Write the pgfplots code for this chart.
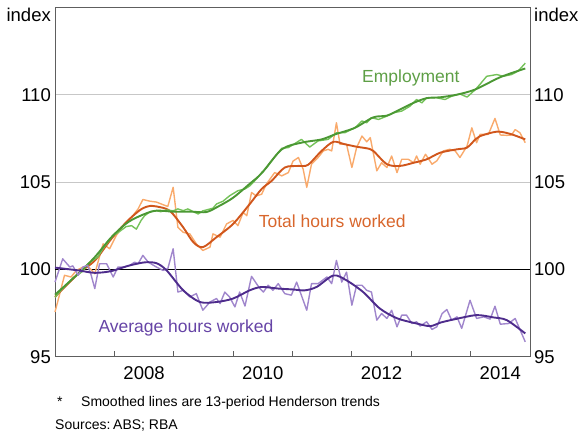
\documentclass[border=0pt]{standalone}
\usepackage{pgfplots}
\pgfplotsset{compat=1.18}
\usepackage{fontspec}
\setmainfont{Liberation Sans}

\definecolor{empraw}{HTML}{74C259}
\definecolor{empsm}{HTML}{4B9834}
\definecolor{emptxt}{HTML}{5E9F46}
\definecolor{hrsraw}{HTML}{F9AA6C}
\definecolor{hrssm}{HTML}{D0561C}
\definecolor{hrstxt}{HTML}{D8662C}
\definecolor{avgraw}{HTML}{A086CC}
\definecolor{avgsm}{HTML}{4E2C8C}
\definecolor{avgtxt}{HTML}{6644A6}
\definecolor{frame}{HTML}{5E5E5E}

\begin{document}
\begin{tikzpicture}
\begin{axis}[
  name=ax,
  scale only axis, width=475pt, height=349.4pt,
  xmin=2007, xmax=2015, ymin=95, ymax=115,
  axis line style={frame, line width=0.9pt},
  xtick={2008,...,2014}, xticklabels={},
  xtick pos=bottom, major tick length=6pt,
  xtick style={frame, line width=0.9pt},
  extra x ticks={2008.5,2010.5,2012.5,2014.5},
  extra x tick labels={2008,2010,2012,2014},
  extra x tick style={major tick length=0pt},
  xticklabel style={inner sep=0pt, yshift=-10pt},
  ytick={95,100,105,110}, yticklabels={95,100,105,110},
  ytick style={draw=none},
  yticklabel style={inner sep=0pt, xshift=-4pt},
  ymajorgrids, grid style={black!22, line width=0.9pt},
  tick label style={font=\fontsize{18.5}{21}\selectfont},
  clip=false
]
\draw[black, line width=0.9pt] (axis cs:2007,100) -- (axis cs:2015,100);

% total hours worked
\addplot[hrsraw, line width=1.4pt, line join=round] coordinates {
(2007.00,97.56)(2007.08,98.6)(2007.16,99.66)(2007.27,99.56)(2007.36,99.94)(2007.47,100.13)
(2007.55,100.2)(2007.67,99.75)(2007.81,101.46)(2007.92,101.18)(2008.03,101.93)(2008.15,102.5)
(2008.29,102.98)(2008.40,103.46)(2008.48,104.0)(2008.60,103.9)(2008.71,103.85)(2008.82,103.7)
(2008.90,103.6)(2008.99,104.7)(2009.07,102.4)(2009.16,102.12)(2009.27,102.03)(2009.38,101.46)
(2009.49,101.08)(2009.61,101.27)(2009.66,102.03)(2009.78,101.84)(2009.89,102.6)(2010.00,102.8)
(2010.08,102.5)(2010.17,103.26)(2010.23,103.07)(2010.31,104.4)(2010.39,104.2)(2010.48,104.3)
(2010.56,104.88)(2010.70,105.54)(2010.82,105.35)(2010.93,105.54)(2011.01,106.2)(2011.10,106.4)
(2011.18,105.73)(2011.24,104.69)(2011.32,106.02)(2011.43,106.4)(2011.52,106.78)(2011.60,106.87)
(2011.66,106.78)(2011.74,108.39)(2011.80,107.16)(2011.91,107.16)(2012.00,105.83)(2012.08,106.97)
(2012.17,107.63)(2012.25,107.3)(2012.31,107.54)(2012.42,105.64)(2012.50,106.1)(2012.59,105.83)
(2012.67,106.49)(2012.76,105.54)(2012.84,106.3)(2012.95,106.3)(2013.04,106.1)(2013.09,106.49)
(2013.15,106.02)(2013.24,106.59)(2013.35,106.02)(2013.43,106.21)(2013.54,106.78)(2013.65,106.87)
(2013.74,106.78)(2013.82,106.4)(2013.94,107.06)(2014.02,108.1)(2014.10,107.25)(2014.16,107.73)
(2014.30,107.73)(2014.41,108.64)(2014.50,107.69)(2014.61,107.67)(2014.69,107.69)(2014.75,108.0)
(2014.83,107.82)(2014.92,107.25)
};
\addplot[hrssm, line width=1.9pt, smooth] coordinates {
(2007.00,98.42)(2007.39,99.75)(2007.67,100.5)(2007.95,101.75)(2008.23,102.8)(2008.46,103.46)
(2008.62,103.64)(2008.71,103.6)(2008.93,103.36)(2009.16,102.4)(2009.33,101.55)(2009.49,101.27)
(2009.72,101.84)(2010.00,102.6)(2010.28,103.74)(2010.48,104.6)(2010.65,105.07)(2010.87,105.83)
(2011.10,105.92)(2011.26,105.98)(2011.49,106.78)(2011.69,107.3)(2011.88,107.16)(2012.11,107.0)
(2012.25,106.93)(2012.36,106.78)(2012.59,106.02)(2012.81,105.92)(2013.04,106.1)(2013.26,106.3)
(2013.49,106.68)(2013.77,106.87)(2013.94,106.97)(2014.08,107.44)(2014.16,107.63)(2014.44,107.88)
(2014.66,107.76)(2014.92,107.44)
};

% employment
\addplot[empraw, line width=1.4pt, line join=round] coordinates {
(2007.00,98.4)(2007.10,98.8)(2007.22,99.2)(2007.30,99.5)(2007.39,99.7)(2007.47,99.9)
(2007.55,100.3)(2007.63,100.5)(2007.72,100.7)(2007.81,101.2)(2007.90,101.6)(2007.98,101.95)
(2008.06,102.1)(2008.12,102.25)(2008.20,102.45)(2008.29,102.5)(2008.37,102.3)(2008.45,102.8)
(2008.51,103.07)(2008.60,103.3)(2008.71,103.36)(2008.78,103.3)(2008.88,103.4)(2008.99,103.35)
(2009.07,103.46)(2009.16,103.36)(2009.24,103.46)(2009.33,103.3)(2009.41,103.17)(2009.49,103.35)
(2009.55,103.4)(2009.66,103.5)(2009.72,103.74)(2009.83,103.9)(2009.94,104.21)(2010.08,104.5)
(2010.20,104.6)(2010.28,104.78)(2010.39,105.16)(2010.48,105.54)(2010.56,105.8)(2010.65,106.2)
(2010.74,106.6)(2010.82,106.93)(2010.93,106.97)(2011.04,107.2)(2011.15,107.44)(2011.29,107.0)
(2011.43,107.35)(2011.60,107.44)(2011.74,107.82)(2011.88,107.82)(2012.05,108.1)(2012.17,108.49)
(2012.25,108.39)(2012.33,108.68)(2012.45,108.58)(2012.59,108.77)(2012.70,108.96)(2012.84,109.06)
(2012.98,109.34)(2013.09,109.72)(2013.18,109.53)(2013.26,109.82)(2013.43,109.82)(2013.57,109.72)
(2013.68,109.91)(2013.82,110.04)(2013.94,109.86)(2014.08,110.29)(2014.16,110.6)(2014.27,111.05)
(2014.44,111.15)(2014.55,111.05)(2014.69,111.15)(2014.80,111.35)(2014.92,111.8)
};
\addplot[empsm, line width=1.9pt, smooth] coordinates {
(2007.00,98.55)(2007.39,99.75)(2007.67,100.7)(2007.95,101.84)(2008.23,102.7)(2008.51,103.17)
(2008.71,103.36)(2009.00,103.3)(2009.30,103.3)(2009.55,103.28)(2009.75,103.6)(2010.00,104.1)
(2010.28,104.9)(2010.48,105.5)(2010.82,106.87)(2011.15,107.25)(2011.49,107.44)(2011.72,107.73)
(2012.05,108.1)(2012.36,108.7)(2012.59,108.8)(2012.81,109.15)(2013.04,109.53)(2013.26,109.8)
(2013.49,109.85)(2013.77,110.0)(2014.08,110.3)(2014.50,111.0)(2014.92,111.5)
};

% average hours worked
\addplot[avgraw, line width=1.4pt, line join=round] coordinates {
(2007.00,99.27)(2007.13,100.6)(2007.25,100.13)(2007.30,100.2)(2007.39,99.66)(2007.47,100.13)
(2007.55,100.23)(2007.61,99.66)(2007.67,98.9)(2007.75,100.32)(2007.87,100.32)(2007.98,99.56)
(2008.06,100.13)(2008.17,100.13)(2008.26,100.23)(2008.34,100.41)(2008.40,100.32)(2008.48,100.8)
(2008.57,100.41)(2008.71,100.13)(2008.82,99.94)(2008.90,100.04)(2008.99,101.18)(2009.07,98.7)
(2009.16,98.8)(2009.27,98.42)(2009.38,98.61)(2009.49,97.66)(2009.61,98.13)(2009.72,98.33)
(2009.78,98.04)(2009.86,98.7)(2009.94,98.42)(2010.03,97.85)(2010.11,98.7)(2010.20,97.9)
(2010.31,99.6)(2010.45,98.9)(2010.51,98.7)(2010.59,99.09)(2010.67,98.8)(2010.76,99.18)
(2010.87,98.61)(2010.98,98.52)(2011.07,99.27)(2011.24,97.66)(2011.32,99.18)(2011.43,99.18)
(2011.58,99.56)(2011.66,99.18)(2011.74,100.51)(2011.83,99.27)(2011.91,99.84)(2012.00,97.95)
(2012.08,99.09)(2012.17,99.09)(2012.25,98.8)(2012.33,98.7)(2012.42,97.09)(2012.50,97.47)
(2012.59,97.19)(2012.67,97.66)(2012.76,96.71)(2012.84,97.38)(2012.92,97.38)(2013.01,96.9)
(2013.09,97.0)(2013.15,96.75)(2013.26,97.0)(2013.35,96.56)(2013.43,96.71)(2013.52,97.47)
(2013.60,97.7)(2013.68,97.09)(2013.77,97.28)(2013.85,96.62)(2013.99,98.23)(2014.10,97.19)
(2014.22,97.28)(2014.33,97.15)(2014.41,97.89)(2014.50,96.86)(2014.64,96.9)(2014.75,97.19)
(2014.92,95.85)
};
\addplot[avgsm, line width=1.9pt, smooth] coordinates {
(2007.00,100.1)(2007.39,99.94)(2007.67,99.8)(2007.95,99.9)(2008.23,100.2)(2008.51,100.4)
(2008.71,100.35)(2008.88,99.94)(2009.16,98.8)(2009.44,98.13)(2009.72,98.13)(2010.00,98.33)
(2010.28,98.8)(2010.48,98.99)(2010.76,98.9)(2011.00,98.85)(2011.21,98.8)(2011.41,99.0)
(2011.69,99.65)(2011.91,99.37)(2012.19,98.7)(2012.47,97.76)(2012.76,97.2)(2013.09,96.9)
(2013.32,96.75)(2013.49,96.95)(2013.74,97.15)(2014.10,97.38)(2014.38,97.25)(2014.61,97.09)
(2014.92,96.33)
};

\node[anchor=base west, inner sep=0pt, text=emptxt, font=\fontsize{17.5}{20}\selectfont]
  at (axis cs:2012.17,110.67) {Employment};
\node[anchor=base west, inner sep=0pt, text=hrstxt, font=\fontsize{17.5}{20}\selectfont]
  at (axis cs:2010.43,102.42) {Total hours worked};
\node[anchor=base west, inner sep=0pt, text=avgtxt, font=\fontsize{17.5}{20}\selectfont]
  at (axis cs:2007.73,96.41) {Average hours worked};
\end{axis}

\begin{axis}[
  at={(ax.south west)}, anchor=south west,
  scale only axis, width=475pt, height=349.4pt,
  xmin=2007, xmax=2015, ymin=95, ymax=115,
  hide x axis, axis y line*=right,
  y axis line style={draw=none},
  ytick={95,100,105,110}, yticklabels={95,100,105,110},
  ytick style={draw=none},
  yticklabel style={inner sep=0pt, xshift=4pt},
  tick label style={font=\fontsize{18.5}{21}\selectfont}
]
\end{axis}

\node[anchor=base east, inner sep=0pt, font=\fontsize{18.5}{21}\selectfont]
  at ([shift={(-4pt,-14.4pt)}]ax.north west) {index};
\node[anchor=base west, inner sep=0pt, font=\fontsize{18.5}{21}\selectfont]
  at ([shift={(4pt,-14.4pt)}]ax.north east) {index};

\node[anchor=base west, inner sep=0pt, font=\fontsize{14}{16}\selectfont]
  at ([shift={(2pt,-50.3pt)}]ax.south west) {*};
\node[anchor=base west, inner sep=0pt, font=\fontsize{14}{16}\selectfont]
  at ([shift={(26pt,-50.3pt)}]ax.south west) {Smoothed lines are 13-period Henderson trends};
\node[anchor=base west, inner sep=0pt, font=\fontsize{14}{16}\selectfont]
  at ([shift={(0pt,-73.3pt)}]ax.south west) {Sources:};
\node[anchor=base west, inner sep=0pt, font=\fontsize{14}{16}\selectfont]
  at ([shift={(58pt,-73.3pt)}]ax.south west) {ABS; RBA};

\pgfresetboundingbox
\path ([shift={(-55pt,-76.3pt)}]ax.south west) rectangle ([shift={(57pt,7.3pt)}]ax.north east);
\end{tikzpicture}
\end{document}
